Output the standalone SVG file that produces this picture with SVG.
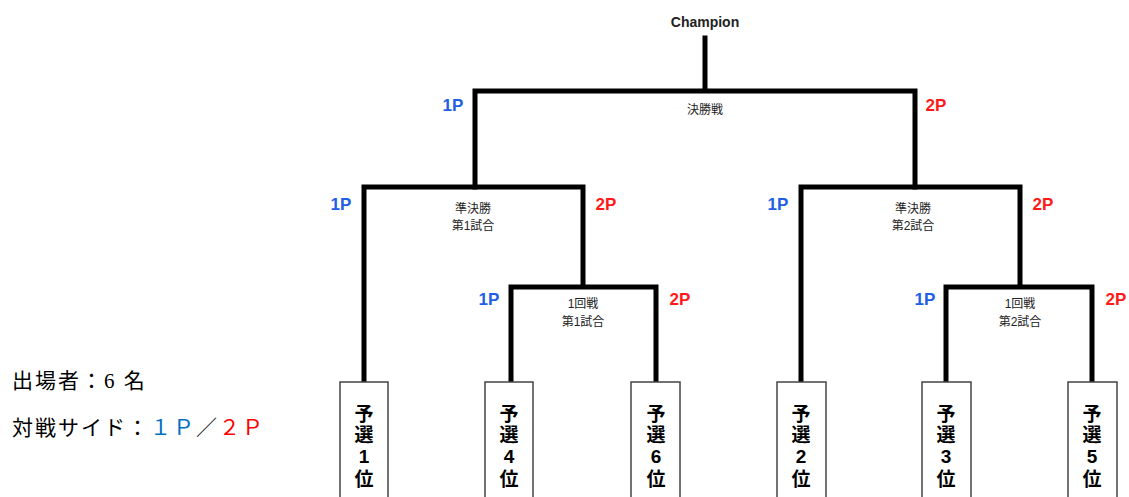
<svg xmlns="http://www.w3.org/2000/svg" width="1129" height="497" viewBox="0 0 1129 497">
<style>
.ln{fill:none;stroke:#000;stroke-width:5;stroke-linecap:square;stroke-linejoin:miter}
.box{fill:#fff;stroke:#444;stroke-width:1.5}
.bt{font-family:"Liberation Sans","Noto Sans CJK JP",sans-serif;font-size:19px;font-weight:bold;text-anchor:middle;fill:#000}
.p1{font-family:"Liberation Sans",Arial,sans-serif;font-size:17px;font-weight:bold;text-anchor:middle;fill:#1f5fe6}
.p2{font-family:"Liberation Sans",Arial,sans-serif;font-size:17px;font-weight:bold;text-anchor:middle;fill:#ff1a1a}
.m{font-family:"Liberation Sans","Noto Sans CJK JP",sans-serif;font-size:12px;text-anchor:middle;fill:#222}
.ch{font-family:"Liberation Sans",Arial,sans-serif;font-size:14px;font-weight:bold;text-anchor:middle;fill:#222}
.lt{font-family:"Liberation Serif","Noto Sans CJK JP",serif;font-size:21px;letter-spacing:2px;fill:#000}
</style>
<g id="connectors">
<path class="ln" d="M705 38V91M475 187V91H915V187"/>
<path class="ln" d="M364 382V187H583V287M511 382V287H656V382"/>
<path class="ln" d="M801 382V187H1020V287M946 382V287H1092V382"/>
</g>
<g id="champion"><text class="ch" x="705" y="27">Champion</text></g>
<g id="final"><text class="m" x="705" y="114">決勝戦</text>
<text class="p1" x="453" y="111">1P</text><text class="p2" x="936" y="111">2P</text></g>
<g id="semi1"><text class="m" x="473" y="213">準決勝</text><text class="m" x="473" y="230">第1試合</text>
<text class="p1" x="341" y="210">1P</text><text class="p2" x="606" y="210">2P</text></g>
<g id="semi2"><text class="m" x="913" y="213">準決勝</text><text class="m" x="913" y="230">第2試合</text>
<text class="p1" x="778" y="210">1P</text><text class="p2" x="1043" y="210">2P</text></g>
<g id="r1m1"><text class="m" x="583" y="308">1回戦</text><text class="m" x="583" y="326">第1試合</text>
<text class="p1" x="489" y="305">1P</text><text class="p2" x="680" y="305">2P</text></g>
<g id="r1m2"><text class="m" x="1020" y="308">1回戦</text><text class="m" x="1020" y="326">第2試合</text>
<text class="p1" x="925" y="305">1P</text><text class="p2" x="1116" y="305">2P</text></g>
<g id="seed1"><rect class="box" x="340" y="382" width="48" height="120"/><text class="bt" x="364" y="421">予</text><text class="bt" x="364" y="442">選</text><text class="bt" x="364" y="463">1</text><text class="bt" x="364" y="486">位</text></g>
<g id="seed4"><rect class="box" x="485" y="382" width="48" height="120"/><text class="bt" x="509" y="421">予</text><text class="bt" x="509" y="442">選</text><text class="bt" x="509" y="463">4</text><text class="bt" x="509" y="486">位</text></g>
<g id="seed6"><rect class="box" x="631" y="382" width="49" height="120"/><text class="bt" x="656" y="421">予</text><text class="bt" x="656" y="442">選</text><text class="bt" x="656" y="463">6</text><text class="bt" x="656" y="486">位</text></g>
<g id="seed2"><rect class="box" x="777" y="382" width="49" height="120"/><text class="bt" x="801" y="421">予</text><text class="bt" x="801" y="442">選</text><text class="bt" x="801" y="463">2</text><text class="bt" x="801" y="486">位</text></g>
<g id="seed3"><rect class="box" x="922" y="382" width="49" height="120"/><text class="bt" x="946" y="421">予</text><text class="bt" x="946" y="442">選</text><text class="bt" x="946" y="463">3</text><text class="bt" x="946" y="486">位</text></g>
<g id="seed5"><rect class="box" x="1068" y="382" width="49" height="120"/><text class="bt" x="1092" y="421">予</text><text class="bt" x="1092" y="442">選</text><text class="bt" x="1092" y="463">5</text><text class="bt" x="1092" y="486">位</text></g>
<g id="legend">
<text class="lt" x="12" y="388">出場者：6 名</text>
<text class="lt" x="12" y="435">対戦サイド：<tspan fill="#0070c0">１Ｐ</tspan>／<tspan fill="#ff0000">２Ｐ</tspan></text>
</g>
</svg>
